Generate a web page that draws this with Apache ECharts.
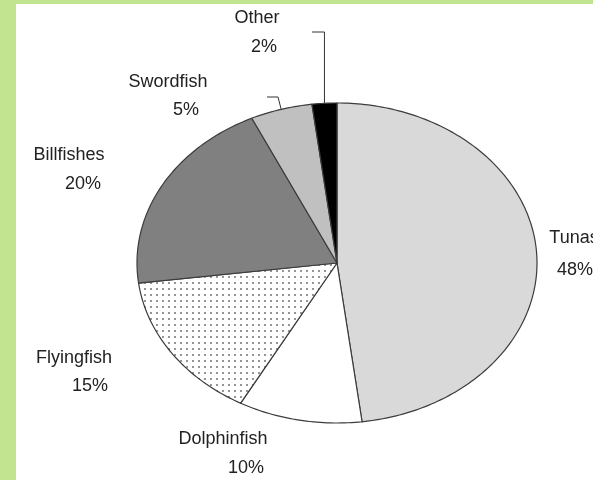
<!DOCTYPE html>
<html>
<head>
<meta charset="utf-8">
<script src="https://cdn.jsdelivr.net/npm/echarts@6/dist/echarts.min.js"></script>
<style>
  html, body { margin: 0; padding: 0; }
  body { width: 593px; height: 480px; background: #c2e38f; position: relative; overflow: hidden; }
  #chart { position: absolute; left: 16px; top: 4px; width: 577px; height: 476px; background: #ffffff; }
</style>
</head>
<body>
<div id="chart"></div>
<script>
// Catch composition by species group (percent)
const categories = ['Tunas', 'Dolphinfish', 'Flyingfish', 'Billfishes', 'Swordfish', 'Other'];
const shares = [48, 10, 15, 20, 5, 2];

// Slice fills, in category order
const sliceColors = ['#d9d9d9', '#ffffff', 'dots', '#808080', '#c0c0c0', '#000000'];

// Label anchors (centre of the name line), chart-div pixels
const labelAnchors = [
  [558, 234], [207, 435], [58, 354], [53, 151], [152, 78], [241, 14]
];
// Offset of the percent line relative to the name line
const valueOffsets = [
  [1, 32], [23, 29], [16, 28], [14, 29], [18, 28], [7, 29]
];

// Elliptical pie geometry
const cx = 321, cy = 259, rx = 200, ry = 160;

function dotPattern() {
  const c = document.createElement('canvas');
  c.width = 6; c.height = 6;
  const g = c.getContext('2d');
  g.fillStyle = '#ffffff';
  g.fillRect(0, 0, 6, 6);
  g.fillStyle = '#7a7a7a';
  g.beginPath();
  g.arc(3, 3, 1.05, 0, Math.PI * 2);
  g.fill();
  return c;
}
const dots = { image: dotPattern(), repeat: 'repeat' };

const total = shares.reduce((a, b) => a + b, 0);
const cumStart = [];
shares.reduce((acc, v, i) => { cumStart[i] = acc; return acc + v; }, 0);

// angle measured clockwise from 12 o'clock
function ellipsePoint(frac) {
  const t = frac * Math.PI * 2;
  return [cx + rx * Math.sin(t), cy - ry * Math.cos(t)];
}

function renderSlice(params, api) {
  const i = params.dataIndex;
  const f0 = cumStart[i] / total;
  const f1 = (cumStart[i] + shares[i]) / total;
  const pts = [[cx, cy]];
  const steps = Math.max(4, Math.ceil((f1 - f0) * 360));
  for (let k = 0; k <= steps; k++) {
    pts.push(ellipsePoint(f0 + (f1 - f0) * k / steps));
  }
  const col = sliceColors[i];
  return {
    type: 'polygon',
    shape: { points: pts },
    style: {
      fill: col === 'dots' ? dots : col,
      stroke: '#3c3c3c',
      lineWidth: 1.2
    }
  };
}

const textStyle = { fontFamily: 'Liberation Sans, Arial, sans-serif', fontSize: 18, fill: '#222222' };
const graphics = [];
categories.forEach((name, i) => {
  const [x, y] = labelAnchors[i];
  graphics.push({
    type: 'text', x: x, y: y,
    style: Object.assign({ text: name, align: 'center', verticalAlign: 'middle' }, textStyle)
  });
  graphics.push({
    type: 'text', x: x + valueOffsets[i][0], y: y + valueOffsets[i][1],
    style: Object.assign({ text: shares[i] + '%', align: 'center', verticalAlign: 'middle' }, textStyle)
  });
});

// Leader lines for the two thin slices, ending at the slice mid-point on the rim
function midRim(i) { return ellipsePoint((cumStart[i] + shares[i] / 2) / total); }
const otherRim = midRim(5);
graphics.push({
  type: 'polyline',
  shape: { points: [[296, 28], [otherRim[0], 28], otherRim] },
  style: { stroke: '#333', lineWidth: 1, fill: null }
});
const swordRim = midRim(4);
graphics.push({
  type: 'polyline',
  shape: { points: [[251, 93], [262, 93], swordRim] },
  style: { stroke: '#333', lineWidth: 1, fill: null }
});

const chart = echarts.init(document.getElementById('chart'), null, { renderer: 'canvas' });
chart.setOption({
  animation: false,
  backgroundColor: '#ffffff',
  series: [{
    type: 'custom',
    coordinateSystem: 'none',
    renderItem: renderSlice,
    data: shares.map((v, i) => ({ name: categories[i], value: v }))
  }],
  graphic: graphics
});
</script>
</body>
</html>
